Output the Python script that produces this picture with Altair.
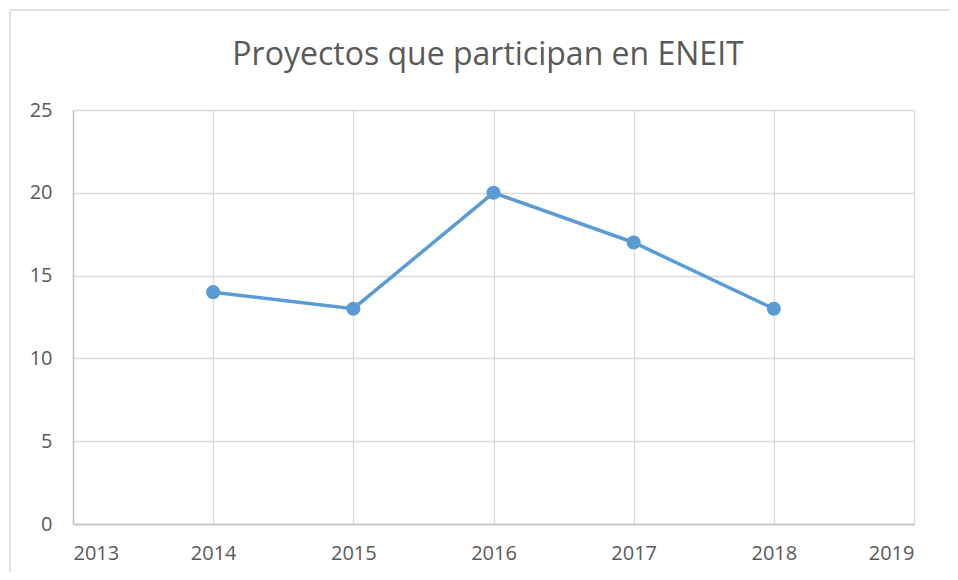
import altair as alt
import pandas as pd

years = [2014, 2015, 2016, 2017, 2018]
projects = [14, 13, 20, 17, 13]

df = pd.DataFrame({"year": years, "projects": projects})

FONT = "Open Sans"
GRAY = "#595959"
GRID = "#d9d9d9"

W, H = 841, 414

x = alt.X("year:Q", scale=alt.Scale(domain=[2013, 2019], nice=False),
          axis=alt.Axis(title=None, values=[2013, 2014, 2015, 2016, 2017, 2018, 2019],
                        format="d", grid=True, gridColor=GRID, gridWidth=1.3,
                        domain=True, domainColor="#bfbfbf", domainWidth=1.3,
                        ticks=False, labelPadding=19, labelFontSize=20,
                        labelColor=GRAY, labelFont=FONT))
y = alt.Y("projects:Q", scale=alt.Scale(domain=[0, 25], nice=False),
          axis=alt.Axis(title=None, values=[0, 5, 10, 15, 20, 25],
                        grid=True, gridColor=GRID, gridWidth=1.3,
                        domain=True, domainColor="#bfbfbf", domainWidth=1.3,
                        ticks=False, labelPadding=21, labelFontSize=20,
                        labelColor=GRAY, labelFont=FONT))

one = pd.DataFrame({"a": [0]})
border_left = alt.Chart(one).mark_rule(stroke=GRID, strokeWidth=1.5).encode(
    x=alt.value(-63), y=alt.value(-100), y2=alt.value(H + 80))
border_top = alt.Chart(one).mark_rule(stroke=GRID, strokeWidth=1.5).encode(
    x=alt.value(-63), x2=alt.value(W + 36), y=alt.value(-100))

line = alt.Chart(df).mark_line(color="#5B9BD5", strokeWidth=3.5).encode(x=x, y=y)
pts = alt.Chart(df).mark_point(filled=True, color="#5B9BD5", size=200, opacity=1).encode(x=x, y=y)

title = alt.Chart(pd.DataFrame({"t": ["Proyectos que participan en ENEIT"]})).mark_text(
    font=FONT, fontSize=32, color=GRAY, align="center", baseline="middle"
).encode(text="t:N", x=alt.value(415), y=alt.value(-55))

chart = alt.layer(border_left, border_top, line, pts, title).properties(
    width=W, height=H,
    autosize=alt.AutoSizeParams(type="none"),
    padding={"left": 65, "top": 102, "right": 36, "bottom": 48},
).configure_view(stroke=None)

chart.save("out.html", embed_options={"renderer": "svg", "actions": False})
